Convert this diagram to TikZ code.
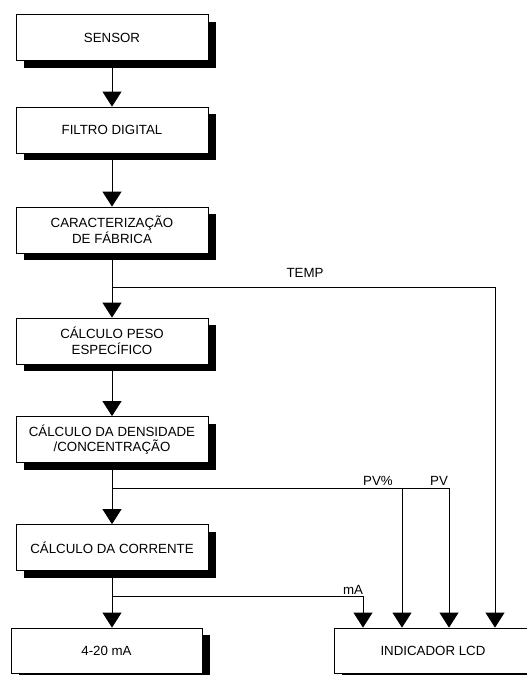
\documentclass[tikz,border=0pt]{standalone}
\usepackage{fontspec}
\setmainfont{Liberation Sans}
\usetikzlibrary{arrows.meta,positioning,shadows}

\begin{document}
\begin{tikzpicture}[
  x=1pt, y=-1pt,
  block/.style={draw=black, fill=white, line width=0.8pt, minimum width=192pt,
    minimum height=46pt, inner sep=0pt, align=center,
    font=\fontsize{13.3}{15.6}\selectfont,
    drop shadow={shadow xshift=8pt, shadow yshift=-7pt, fill=black, opacity=1}},
  flow/.style={-{Triangle[width=19pt,length=15pt]}, line width=0.8pt},
  wire/.style={line width=0.8pt},
  sig/.style={font=\fontsize{13.3}{15.6}\selectfont, inner sep=0pt, anchor=base}
]
  \useasboundingbox (0,0) rectangle (527,675);

  % Processing chain
  \node[block] (sensor) at (112,37.5) {SENSOR};
  \node[block] (filtro) at (112,130) {FILTRO DIGITAL};
  \node[block] (caract) at (112,230) {CARACTERIZAÇÃO\\DE FÁBRICA};
  \node[block] (peso) at (112,341) {CÁLCULO PESO\\ESPECÍFICO};
  \node[block] (dens) at (112,439.5) {CÁLCULO DA DENSIDADE\\/CONCENTRAÇÃO};
  \node[block] (corr) at (112,547.5) {CÁLCULO DA CORRENTE};

  % Outputs
  \node[block, minimum width=191pt, minimum height=45pt] (saida) at (106.5,650.5) {4-20 mA};
  \node[block, minimum width=198pt, minimum height=45pt] (lcd) at (433,650.5) {INDICADOR LCD};

  % Branch points
  \coordinate (jtemp) at (112,287);
  \coordinate (jpv) at (112,488);
  \coordinate (jma) at (112,596);
  \coordinate (ctemp) at (495,287);
  \coordinate (cpvp) at (402,488);
  \coordinate (cpv) at (449,488);
  \coordinate (cma) at (363,596);

  % Main flow
  \draw[flow] (sensor) -- (filtro);
  \draw[flow] (filtro) -- (caract);
  \draw[flow] (caract) -- (peso);
  \draw[flow] (peso) -- (dens);
  \draw[flow] (dens) -- (corr);
  \draw[flow] (corr.south) -- (corr.south |- saida.north);

  % Signals to the display
  \draw[wire] (jtemp) -- (ctemp);
  \draw[flow] (ctemp) -- (ctemp |- lcd.north);
  \draw[wire] (jpv) -- (cpv);
  \draw[flow] (cpvp) -- (cpvp |- lcd.north);
  \draw[flow] (cpv) -- (cpv |- lcd.north);
  \draw[wire] (jma) -- (cma);
  \draw[flow] (cma) -- (cma |- lcd.north);

  % Signal labels
  \node[sig] (ltemp) at (305,277) {TEMP};
  \node[sig] (lpvp) at (378,485) {PV\%};
  \node[sig] (lpv) at (439,485) {PV};
  \node[sig] (lma) at (353,594) {mA};
\end{tikzpicture}
\end{document}
